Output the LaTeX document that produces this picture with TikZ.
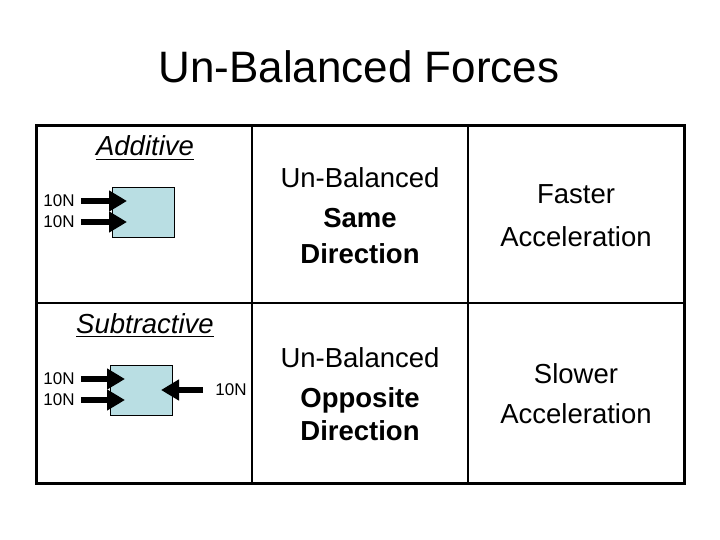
\documentclass[tikz,border=0pt]{standalone}
\usepackage{fontspec}
\setmainfont{Liberation Sans}
\usetikzlibrary{arrows.meta}
\definecolor{boxblue}{RGB}{185,222,227}
\tikzset{
  celltext/.style={anchor=base,inner sep=0pt,font=\fontsize{27.5}{33}\selectfont},
  boldtext/.style={celltext,font=\fontsize{27.5}{33}\selectfont\bfseries},
  headtext/.style={anchor=base,inner sep=0pt,font=\fontsize{27.5}{33}\selectfont\itshape},
  uline/.style={line width=1.6pt},
  forcelabel/.style={anchor=center,inner sep=0pt,font=\fontsize{17}{20}\selectfont},
  body/.style={draw=black,line width=0.8pt,fill=boxblue,minimum width=62pt,minimum height=50pt,inner sep=0pt},
  force/.style={line width=5.5pt,-{Triangle[length=18pt,width=20pt]}},
  outer/.style={line width=3pt},
  inner/.style={line width=2pt}
}
\begin{document}
\begin{tikzpicture}[x=1pt,y=-1pt]
\useasboundingbox (0,0) rectangle (720,540);
% title
\node[anchor=base,inner sep=0pt,font=\fontsize{44}{50}\selectfont] (title) at (359,83) {Un-Balanced Forces};
% table grid
\draw[inner] (252,126) -- (252,483);
\draw[inner] (468,126) -- (468,483);
\draw[inner] (36,303) -- (684,303);
\draw[outer] (36,126) rectangle (684,483);
% Additive cell
\node[headtext] (add) at (145,156) {Additive};
\draw[uline] ([yshift=-3.5pt]add.base west) -- ([yshift=-3.5pt]add.base east);
\node[body] (box1) at (143,212) {};
\node[forcelabel] (a1) at (59,201) {10N};
\node[forcelabel] (a2) at (59,222) {10N};
\coordinate (a1t) at (127,201);
\coordinate (a2t) at (127,222);
\draw[force] (a1.east) ++(6,0) coordinate (a1s) (a1s) -- (a1t);
\draw[force] (a2.east) ++(6,0) coordinate (a2s) (a2s) -- (a2t);
% Subtractive cell
\node[headtext] (sub) at (145,333) {Subtractive};
\draw[uline] ([yshift=-3.5pt]sub.base west) -- ([yshift=-3.5pt]sub.base east);
\node[body] (box2) at (141.5,390) {};
\node[forcelabel] (s1) at (59,379) {10N};
\node[forcelabel] (s2) at (59,400) {10N};
\node[forcelabel] (s3) at (231,390) {10N};
\coordinate (s1t) at (125,379);
\coordinate (s2t) at (125,400);
\coordinate (s3t) at (161,390);
\draw[force] (s1.east) ++(6,0) coordinate (s1s) (s1s) -- (s1t);
\draw[force] (s2.east) ++(6,0) coordinate (s2s) (s2s) -- (s2t);
\draw[force] (s3.west) ++(-12,0) coordinate (s3s) (s3s) -- (s3t);
% middle column
\node[celltext] (ub1) at (360,188) {Un-Balanced};
\node[boldtext] (same) at (360,228) {Same};
\node[boldtext] (dir1) at (360,263) {Direction};
\node[celltext] (ub2) at (360,367) {Un-Balanced};
\node[boldtext] (opp) at (360,407) {Opposite};
\node[boldtext] (dir2) at (360,440) {Direction};
% right column
\node[celltext] (fast) at (576,204) {Faster};
\node[celltext] (acc1) at (576,246) {Acceleration};
\node[celltext] (slow) at (576,383) {Slower};
\node[celltext] (acc2) at (576,423) {Acceleration};
\end{tikzpicture}
\end{document}
